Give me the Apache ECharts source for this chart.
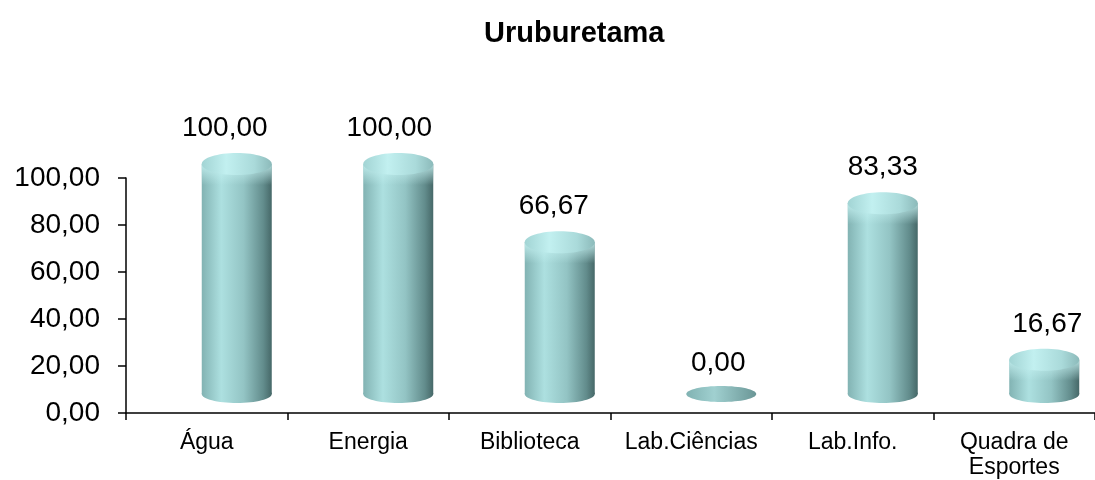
<!DOCTYPE html>
<html>
<head>
<meta charset="utf-8">
<script src="https://cdn.jsdelivr.net/npm/echarts@6/dist/echarts.min.js"></script>
<style>
  html, body { margin: 0; padding: 0; background: #fff; }
  #chart { width: 1095px; height: 480px; }
</style>
</head>
<body>
<div id="chart"></div>
<script>
var titleText = 'Uruburetama';
var categories = ['Água', 'Energia', 'Biblioteca', 'Lab.Ciências', 'Lab.Info.', 'Quadra de\nEsportes'];
var values = [100, 100, 66.67, 0, 83.33, 16.67];
var yMin = 0, yMax = 100, yStep = 20;

function fmt(v) {
  return Number(v).toFixed(2).replace('.', ',');
}

init();

function init() {
  var chart = echarts.init(document.getElementById('chart'));
  var font = '"Liberation Sans", Arial, sans-serif';

  // cilindro 3D (estilo Excel)
  function renderItem(params, api) {
    var idx = api.value(0);
    var v = api.value(1);
    var top = api.coord([idx, v]);
    var base = api.coord([idx, 0]);
    var cx = top[0] + 30;
    var rx = 35, ry = 11;
    var ty = top[1] - 14;
    var by = base[1] - 19;
    var bodyGrad = new echarts.graphic.LinearGradient(0, 0, 1, 0, [
      {offset: 0, color: '#82b3b3'},
      {offset: 0.28, color: '#ade0e0'},
      {offset: 0.6, color: '#93c4c4'},
      {offset: 0.88, color: '#628c8c'},
      {offset: 1, color: '#466868'}
    ]);
    var capGrad = new echarts.graphic.LinearGradient(0, 0, 1, 0, [
      {offset: 0, color: '#a2d4d4'},
      {offset: 0.35, color: '#c2f0f0'},
      {offset: 0.75, color: '#aadada'},
      {offset: 1, color: '#8cbaba'}
    ]);
    var bevelGrad = new echarts.graphic.LinearGradient(0, 0, 0, 1, [
      {offset: 0, color: 'rgba(200,244,244,0.85)'},
      {offset: 1, color: 'rgba(200,244,244,0)'}
    ]);
    var children = [];
    if (by - ty > 1) {
      children.push({type: 'rect', shape: {x: cx - rx, y: ty, width: 2 * rx, height: by - ty}, style: {fill: bodyGrad}});
      children.push({type: 'ellipse', shape: {cx: cx, cy: by, rx: rx, ry: ry - 2}, style: {fill: bodyGrad}});
      children.push({type: 'rect', shape: {x: cx - rx, y: ty, width: 2 * rx, height: Math.min(ry + 10, by - ty)}, style: {fill: bevelGrad}});
      children.push({type: 'ellipse', shape: {cx: cx, cy: ty, rx: rx, ry: ry}, style: {fill: capGrad}});
    } else {
      children.push({type: 'ellipse', shape: {cx: cx, cy: by, rx: rx, ry: 8},
        style: {fill: new echarts.graphic.LinearGradient(0, 0, 1, 0, [
          {offset: 0, color: '#80b2b2'}, {offset: 0.4, color: '#a0d0d0'}, {offset: 1, color: '#6a9696'}
        ])}});
    }
    children.push({
      type: 'text',
      style: {
        text: fmt(v), x: cx - 12 + 3 * idx, y: top[1] - 50,
        align: 'center', verticalAlign: 'middle',
        font: '28px ' + font, fill: '#000'
      }
    });
    return {type: 'group', children: children};
  }

  chart.setOption({
    animation: false,
    title: {
      text: titleText,
      left: 479,
      top: 14,
      textStyle: {fontSize: 29, fontWeight: 'bold', color: '#000', fontFamily: font}
    },
    grid: {left: 126, top: 178, width: 978, height: 235, containLabel: false},
    xAxis: {
      type: 'category',
      data: categories,
      axisLine: {lineStyle: {color: '#000', width: 1.5}},
      axisTick: {show: true, length: 7, interval: 0, lineStyle: {color: '#000', width: 1.5}},
      axisLabel: {interval: 0, color: '#000', fontSize: 23, fontFamily: font, margin: 17, lineHeight: 25}
    },
    yAxis: {
      type: 'value',
      min: yMin, max: yMax, interval: yStep,
      axisLine: {show: true, lineStyle: {color: '#000', width: 1.5}},
      axisTick: {show: true, length: 8, lineStyle: {color: '#000', width: 1.5}},
      splitLine: {show: false},
      axisLabel: {color: '#000', fontSize: 28, fontFamily: font, margin: 26, formatter: fmt}
    },
    series: [{
      type: 'custom',
      renderItem: renderItem,
      clip: false,
      data: values.map(function (v, i) { return [i, v]; })
    }]
  });
}
</script>
</body>
</html>
